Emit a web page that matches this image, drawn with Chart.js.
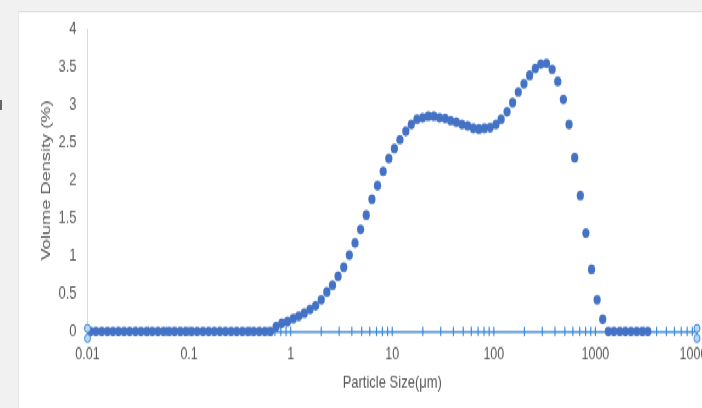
<!DOCTYPE html>
<html>
<head>
<meta charset="utf-8">
<script src="https://cdn.jsdelivr.net/npm/chart.js@4/dist/chart.umd.min.js"></script>
<style>
  html, body { margin: 0; padding: 0; width: 702px; height: 408px; overflow: hidden; background: #f1f1f1; }
  #frame {
    position: absolute; left: 18px; top: 11px; width: 708px; height: 294px;
    background: #fff; border-top: 1px solid #dedede; border-left: 1px solid #e6e6e6;
    transform: scaleY(1.35); transform-origin: 0 0;
  }
  #mark { position: absolute; left: 0; top: 100px; width: 2px; height: 10px; background: #666; }
</style>
</head>
<body>
<div id="mark"></div>
<div id="frame"><canvas id="chart" width="708" height="294"></canvas></div>
<script>
// particle size classes (um), plotted at class mid points
const sizes = [
  0.0107, 0.0121, 0.0138, 0.0157, 0.0178, 0.0202, 0.0229, 0.0260, 0.0296, 0.0336,
  0.0382, 0.0434, 0.0493, 0.0561, 0.0637, 0.0723, 0.0822, 0.0934, 0.106, 0.120,
  0.137, 0.156, 0.177, 0.201, 0.228, 0.259, 0.294, 0.335, 0.380, 0.432,
  0.490, 0.557, 0.633, 0.720, 0.818, 0.930, 1.06, 1.20, 1.36, 1.55,
  1.76, 2.00, 2.27, 2.58, 2.93, 3.33, 3.78, 4.30, 4.88, 5.55,
  6.31, 7.16, 8.14, 9.25, 10.5, 11.9, 13.6, 15.4, 17.5, 19.9,
  22.6, 25.7, 29.2, 33.2, 37.6, 42.8, 48.6, 55.2, 62.8, 71.3,
  81.0, 92.1, 105, 118, 135, 153, 174, 198, 225, 256,
  290, 330, 375, 426, 484, 550, 625, 710, 806, 916,
  1040, 1180, 1340, 1520, 1740, 1970, 2240, 2550, 2890, 3280
];

// volume density (%)
const volumes = [
  0, 0, 0, 0, 0, 0, 0, 0, 0, 0,
  0, 0, 0, 0, 0, 0, 0, 0, 0, 0,
  0, 0, 0, 0, 0, 0, 0, 0, 0, 0,
  0, 0, 0, 0.066, 0.106, 0.13, 0.17, 0.20, 0.24, 0.29,
  0.34, 0.42, 0.52, 0.61, 0.73, 0.85, 1.01, 1.17, 1.35, 1.54,
  1.75, 1.93, 2.12, 2.29, 2.42, 2.54, 2.65, 2.74, 2.81, 2.83,
  2.85, 2.85, 2.83, 2.82, 2.79, 2.77, 2.74, 2.72, 2.69, 2.68,
  2.69, 2.70, 2.74, 2.81, 2.91, 3.03, 3.17, 3.28, 3.39, 3.48,
  3.54, 3.55, 3.47, 3.31, 3.07, 2.74, 2.30, 1.80, 1.30, 0.82,
  0.42, 0.16, 0, 0, 0, 0, 0, 0, 0, 0
];

const xDecades = [0.01, 0.1, 1, 10, 100, 1000, 10000];
const xMinorSteps = [2, 3, 4, 5, 6, 7, 8, 9];
const yTicks = [0, 0.5, 1, 1.5, 2, 2.5, 3, 3.5, 4];

const DOT = '#4472c4';
const AXIS_BLUE = '#3a8ad6';
const TEXT = '#595959';
const FONT = 'Liberation Sans, Arial, sans-serif';

let points = sizes.map((s, i) => ({ x: s, y: volumes[i] }));

// blue cross ticks on the selected x axis + end handles
const axisDecor = {
  id: 'axisDecor',
  beforeDatasetsDraw(chart) {
    const { ctx, chartArea } = chart;
    const x = chart.scales.x;
    const y0 = chartArea.bottom;
    ctx.save();
    ctx.strokeStyle = AXIS_BLUE;
    ctx.lineWidth = 1.2;
    x.ticks.forEach(t => {
      const px = x.getPixelForValue(t.value);
      ctx.beginPath();
      ctx.moveTo(px, y0 - 3.5);
      ctx.lineTo(px, y0 + 3.5);
      ctx.stroke();
    });
    ctx.restore();
  },
  afterDatasetsDraw(chart) {
    const { ctx, chartArea } = chart;
    const y0 = chartArea.bottom;
    ctx.save();
    ctx.fillStyle = '#bcd6f3';
    ctx.strokeStyle = AXIS_BLUE;
    ctx.lineWidth = 1;
    [chartArea.left, chartArea.right].forEach(px => {
      [y0 - 2.2, y0 + 5.2].forEach(py => {
        ctx.beginPath();
        ctx.arc(px, py, 3, 0, Math.PI * 2);
        ctx.fill();
        ctx.stroke();
      });
    });
    ctx.restore();
  }
};

let chartInstance = new Chart(document.getElementById('chart').getContext('2d'), {
  type: 'scatter',
  data: {
    datasets: [{
      data: points,
      pointRadius: 3.6,
      pointHoverRadius: 3.6,
      pointBackgroundColor: DOT,
      pointBorderWidth: 0,
      clip: false
    }]
  },
  options: {
    responsive: false,
    animation: false,
    layout: { padding: { top: 12.6, right: 30, left: 0, bottom: 0 } },
    plugins: {
      legend: { display: false },
      tooltip: { enabled: false }
    },
    scales: {
      x: {
        type: 'logarithmic',
        min: 0.01,
        max: 10000,
        afterBuildTicks: scale => {
          let ticks = [];
          xDecades.forEach(d => {
            ticks.push({ value: d, major: true });
            if (d < 10000) xMinorSteps.forEach(m => ticks.push({ value: d * m, major: false }));
          });
          scale.ticks = ticks;
        },
        afterFit: scale => { scale.height = 57.7; },
        border: { color: AXIS_BLUE, width: 1.5 },
        grid: { drawOnChartArea: false, drawTicks: false },
        ticks: {
          autoSkip: false,
          maxRotation: 0,
          minRotation: 0,
          padding: 9.5,
          color: TEXT,
          font: { family: FONT, size: 12.5 },
          callback: v => xDecades.includes(v) ? String(v) : ''
        },
        title: {
          display: true,
          text: 'Particle Size(μm)',
          color: TEXT,
          font: { family: FONT, size: 13 },
          padding: { top: 0, bottom: 11.4 }
        }
      },
      y: {
        min: 0,
        max: 4,
        afterBuildTicks: scale => { scale.ticks = yTicks.map(v => ({ value: v })); },
        afterFit: scale => {
          scale.width = 68.5;
          scale.paddingTop = 0;
          scale.paddingBottom = 0;
        },
        border: { color: '#d9d9d9', width: 1 },
        grid: { drawOnChartArea: false, drawTicks: false },
        ticks: {
          padding: 11,
          color: TEXT,
          font: { family: FONT, size: 13 },
          callback: v => String(v)
        },
        title: {
          display: true,
          text: 'Volume Density (%)',
          color: TEXT,
          font: { family: FONT, size: 13.5 },
          padding: { top: 18.9, bottom: 0 }
        }
      }
    }
  },
  plugins: [axisDecor]
});
</script>
</body>
</html>
